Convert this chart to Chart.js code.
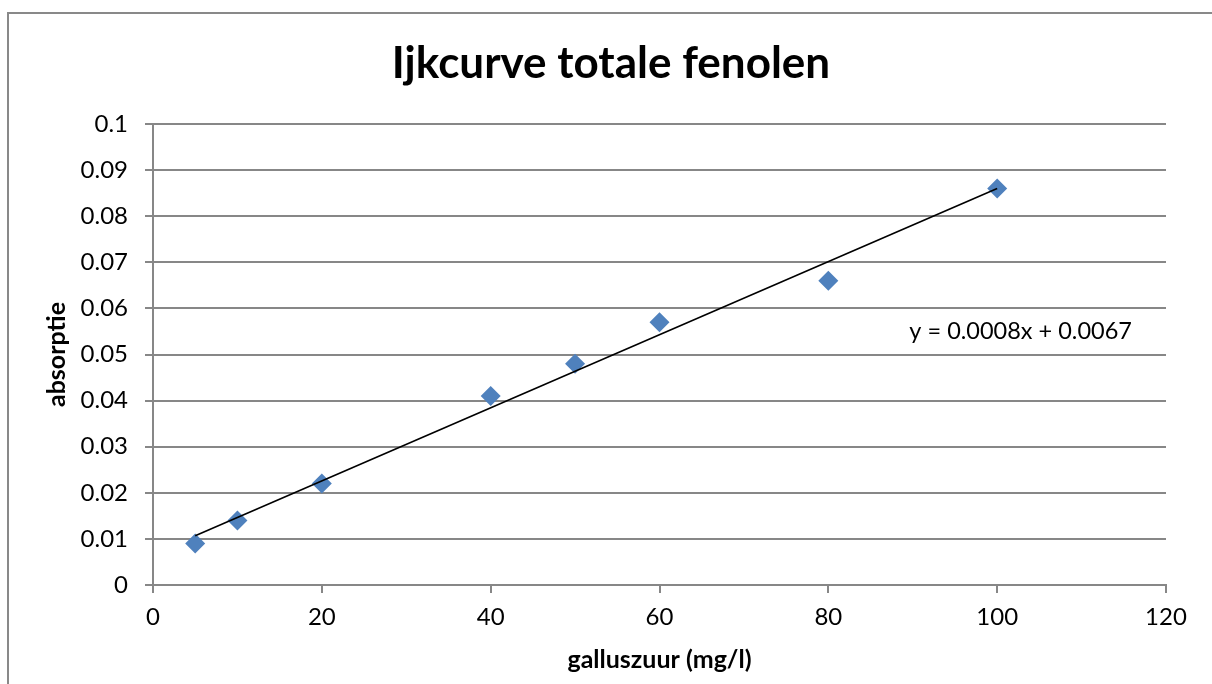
<!DOCTYPE html>
<html>
<head>
<meta charset="utf-8">
<script src="https://cdn.jsdelivr.net/npm/chart.js@4"></script>
<style>
    html, body { margin: 0; padding: 0; background: #fff; overflow: hidden; }
    #chart { display: block; }
</style>
</head>
<body>
<canvas id="chart" width="1212" height="684"></canvas>
<script>
// 측정 데이터 (galluszuur mg/l -> absorptie)
const concentraties = [5, 10, 20, 40, 50, 60, 80, 100];
const absorpties = [0.009, 0.014, 0.022, 0.041, 0.048, 0.057, 0.066, 0.086];

// 추세선 끝점
const trendX = [5, 100];
const trendY = [0.0107, 0.0860];

const xTicks = [0, 20, 40, 60, 80, 100, 120];
const yTicks = [0, 0.01, 0.02, 0.03, 0.04, 0.05, 0.06, 0.07, 0.08, 0.09, 0.1];

const titel = 'Ijkcurve totale fenolen';
const vergelijking = 'y = 0.0008x + 0.0067';

const FONT = 'Lato, "Open Sans", sans-serif';
const GRID = '#878787';

// 차트 테두리 (왼쪽과 위쪽만 보임)
const framePlugin = {
    id: 'framePlugin',
    beforeDraw(chart) {
        const ctx = chart.ctx;
        ctx.save();
        ctx.strokeStyle = '#898989';
        ctx.lineWidth = 2;
        ctx.beginPath();
        ctx.moveTo(8, chart.height + 2);
        ctx.lineTo(8, 13);
        ctx.lineTo(chart.width + 2, 13);
        ctx.stroke();
        ctx.restore();
    }
};

// 제목과 추세선 식 그리기
const textPlugin = {
    id: 'textPlugin',
    afterDraw(chart) {
        const ctx = chart.ctx;
        ctx.save();
        ctx.fillStyle = '#000';
        ctx.textBaseline = 'middle';
        ctx.textAlign = 'center';
        ctx.font = 'bold 44px ' + FONT;
        ctx.fillText(titel, 611, 64);

        ctx.textAlign = 'left';
        ctx.font = '23.5px ' + FONT;
        const sx = chart.scales.x, sy = chart.scales.y;
        ctx.fillText(vergelijking, sx.getPixelForValue(89.6), sy.getPixelForValue(0.0550));
        ctx.restore();
    }
};

const ctx = document.getElementById('chart').getContext('2d');
new Chart(ctx, {
    type: 'scatter',
    data: {
        datasets: [
            {
                label: 'trend',
                type: 'line',
                data: trendX.map((x, i) => ({ x: x, y: trendY[i] })),
                borderColor: '#000',
                borderWidth: 1.6,
                pointRadius: 0,
                fill: false
            },
            {
                label: 'absorptie',
                data: concentraties.map((x, i) => ({ x: x, y: absorpties[i] })),
                pointStyle: 'rectRot',
                pointRadius: 10,
                pointHoverRadius: 10,
                backgroundColor: '#4F81BD',
                borderColor: '#4F81BD',
                borderWidth: 0
            }
        ]
    },
    options: {
        responsive: false,
        animation: false,
        events: [],
        layout: {
            padding: { top: 124, left: 40, right: 46, bottom: 0 }
        },
        plugins: {
            legend: { display: false },
            tooltip: { enabled: false },
            title: { display: false }
        },
        scales: {
            x: {
                type: 'linear',
                min: 0,
                max: 120,
                afterBuildTicks: s => { s.ticks = xTicks.map(v => ({ value: v })); },
                afterFit: s => { s.height = 99; },
                ticks: {
                    color: '#000',
                    font: { family: FONT, size: 24 },
                    padding: 10
                },
                grid: {
                    drawOnChartArea: false,
                    drawTicks: true,
                    tickLength: 8,
                    color: GRID,
                    lineWidth: 2
                },
                border: { color: GRID, width: 2 },
                title: {
                    display: true,
                    text: 'galluszuur (mg/l)',
                    color: '#000',
                    font: { family: FONT, size: 25, weight: 'bold' },
                    padding: { top: 0, bottom: 9 }
                }
            },
            y: {
                min: 0,
                max: 0.1,
                afterBuildTicks: s => { s.ticks = yTicks.map(v => ({ value: v })); },
                afterFit: s => { s.width = 113; },
                ticks: {
                    color: '#000',
                    font: { family: FONT, size: 24 },
                    padding: 17,
                    callback: v => String(+v.toFixed(2))
                },
                grid: {
                    drawTicks: true,
                    tickLength: 8,
                    color: GRID,
                    lineWidth: 2
                },
                border: { color: GRID, width: 2 },
                title: {
                    display: true,
                    text: 'absorptie',
                    color: '#000',
                    font: { family: FONT, size: 25, weight: 'bold' },
                    padding: { top: 2, bottom: 0 }
                }
            }
        }
    },
    plugins: [framePlugin, textPlugin]
});
</script>
</body>
</html>
